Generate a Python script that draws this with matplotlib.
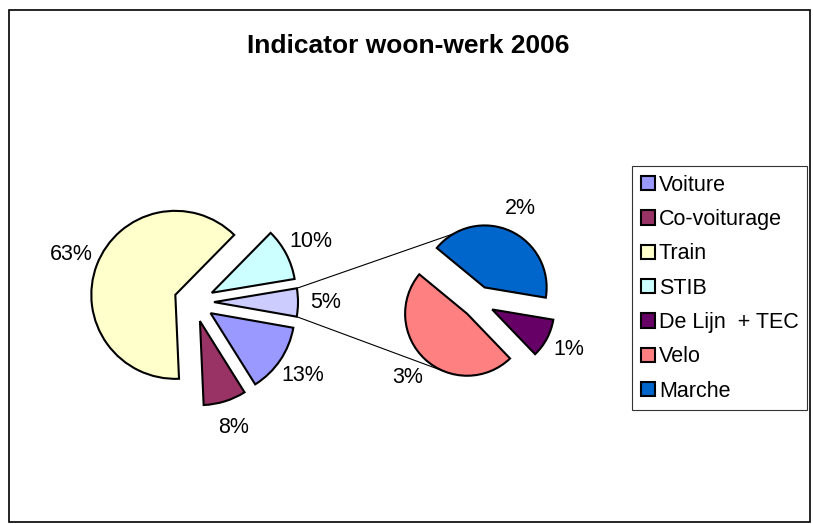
import matplotlib
matplotlib.use('Agg')
import matplotlib.pyplot as plt
from matplotlib.patches import Rectangle
import numpy as np

plt.rcParams['font.family'] = ['Liberation Sans', 'DejaVu Sans']

# data (share of commuters, %)
main_labels = ['Voiture', 'Co-voiturage', 'Train', 'STIB']
main_values = [13.3, 8.2, 63.0, 10.0]
main_colors = ['#9999FF', '#993366', '#FFFFCC', '#CCFFFF']

sub_labels = ['De Lijn  + TEC', 'Velo', 'Marche']
sub_values = [0.55, 2.6, 2.25]
sub_colors = ['#660066', '#FF8080', '#0066CC']
other_color = '#CCCCFF'

title = 'Indicator woon-werk 2006'

W, H = 813, 524
fig = plt.figure(figsize=(W / 100, H / 100), dpi=100)
ax = fig.add_axes([0, 0, 1, 1])

total = sum(main_values) + sum(sub_values)
pie_values = main_values + [sum(sub_values)]
pie_colors = main_colors + [other_color]

def pct(v):
    return '%d%%' % round(v / total * 100)

wedge_kw = dict(edgecolor='black', linewidth=1.5)

main_wedges, main_texts = ax.pie(
    pie_values, colors=pie_colors, labels=[pct(v) for v in pie_values],
    center=(194, 222), radius=84, explode=[20] * len(pie_values),
    startangle=-10, counterclock=False, labeldistance=1.33,
    wedgeprops=wedge_kw, textprops=dict(fontsize=15.5), frame=True)

sub_wedges, sub_texts = ax.pie(
    sub_values, colors=sub_colors, labels=[pct(v) for v in sub_values],
    center=(478, 222), radius=62, explode=[16] * len(sub_values),
    startangle=-9.5, counterclock=False, labeldistance=1.4,
    wedgeprops=wedge_kw, textprops=dict(fontsize=15.5), frame=True)

ax.set_xlim(0, W)
ax.set_ylim(0, H)
ax.set_aspect('equal')
ax.axis('off')

for t in main_texts + sub_texts:
    t.set_ha('center')
    t.set_va('center')

# connector lines from the "other" slice to the secondary pie
other = main_wedges[-1]
def arc_point(w, ang):
    a = np.deg2rad(ang)
    return w.center[0] + w.r * np.cos(a), w.center[1] + w.r * np.sin(a)

p_top = arc_point(other, other.theta2)
p_bot = arc_point(other, other.theta1)
q_top = arc_point(sub_wedges[2], 120)
q_bot = arc_point(sub_wedges[1], 251)
ax.plot([p_top[0], q_top[0]], [p_top[1], q_top[1]], color='black', lw=0.8, zorder=0)
ax.plot([p_bot[0], q_bot[0]], [p_bot[1], q_bot[1]], color='black', lw=0.8, zorder=0)

ax.text(408, 478, title, fontsize=19, fontweight='bold', ha='center', va='center')

# outer chart border
ax.add_patch(Rectangle((8.5, 2.5), 801, 512, fill=False, edgecolor='black', lw=1.2))

leg = fig.legend(main_wedges[:-1] + list(sub_wedges), main_labels + sub_labels,
                 loc='upper left', bbox_to_anchor=(632 / W, 1 - 166 / H),
                 fontsize=15.5, frameon=True, fancybox=False, borderaxespad=0,
                 handlelength=0.65, handleheight=0.65, handletextpad=0.2,
                 labelspacing=0.62, borderpad=0.4)
leg.get_frame().set_edgecolor('black')
leg.get_frame().set_linewidth(0.8)
for h in leg.legend_handles:
    h.set_linewidth(1.5)

fig.savefig('out.png', dpi=100)
